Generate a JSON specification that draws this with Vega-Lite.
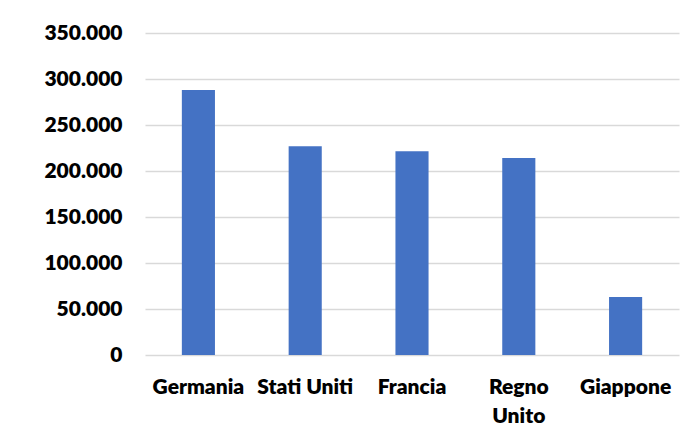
{
  "$schema": "https://vega.github.io/schema/vega-lite/v6.json",
  "width": 534,
  "height": 322,
  "autosize": {"type": "none"},
  "padding": {"left": 145, "top": 33, "right": 20, "bottom": 89},
  "background": "white",
  "data": {
    "values": [
      {"paese": "Germania", "valore": 288000},
      {"paese": "Stati Uniti", "valore": 227000},
      {"paese": "Francia", "valore": 221500},
      {"paese": "Regno Unito", "valore": 214000},
      {"paese": "Giappone", "valore": 63000}
    ]
  },
  "mark": {"type": "bar", "color": "#4472C4", "width": {"band": 0.31}},
  "encoding": {
    "x": {
      "field": "paese",
      "type": "nominal",
      "sort": null,
      "scale": {"paddingInner": 0, "paddingOuter": 0},
      "axis": {
        "title": null,
        "labelAngle": 0,
        "domain": false,
        "ticks": false,
        "labelPadding": 21,
        "labelFont": "Lato",
        "labelFontWeight": 800,
        "labelFontSize": 21,
        "labelColor": "#000000",
        "labelLineHeight": 29,
        "labelExpr": "datum.label == 'Regno Unito' ? ['Regno', 'Unito'] : datum.label"
      }
    },
    "y": {
      "field": "valore",
      "type": "quantitative",
      "scale": {"domain": [0, 350000], "nice": false},
      "axis": {
        "title": null,
        "values": [0, 50000, 100000, 150000, 200000, 250000, 300000, 350000],
        "domain": false,
        "ticks": false,
        "labelPadding": 23,
        "labelFont": "Lato",
        "labelFontWeight": 800,
        "labelFontSize": 21,
        "labelColor": "#000000",
        "gridColor": "#d9d9d9",
        "gridWidth": 1.5,
        "labelExpr": "replace(format(datum.value, ','), ',', '.')"
      }
    }
  },
  "config": {"view": {"stroke": null}}
}
